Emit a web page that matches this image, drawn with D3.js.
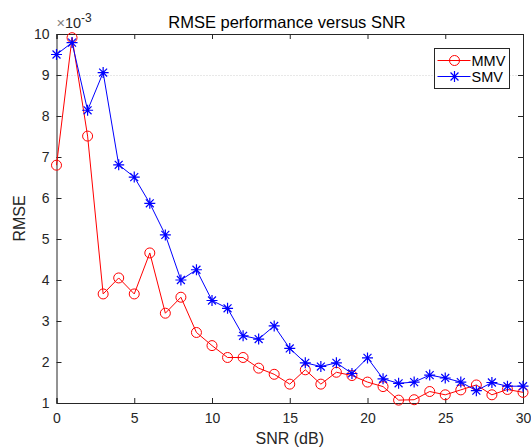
<!DOCTYPE html>
<html>
<head>
<meta charset="utf-8">
<script src="https://cdn.jsdelivr.net/npm/d3@7"></script>
<style>
  body { margin: 0; background: #fff; }
  svg { display: block; font-family: "Liberation Sans", Arial, sans-serif; }
</style>
</head>
<body>
<script>
// data (RMSE in units of 1e-3)
const snr = d3.range(0, 31);
const mmv = [6.80, 9.91, 7.51, 3.66, 4.05, 3.66, 4.66, 3.19, 3.58, 2.72, 2.40,
  2.11, 2.11, 1.85, 1.70, 1.46, 1.81, 1.46, 1.75, 1.67, 1.51, 1.40, 1.07, 1.08,
  1.28, 1.20, 1.32, 1.44, 1.20, 1.33, 1.26];
const smv = [9.50, 9.79, 8.14, 9.06, 6.81, 6.51, 5.87, 5.10, 4.00, 4.25, 3.50,
  3.31, 2.64, 2.56, 2.88, 2.33, 1.98, 1.89, 1.98, 1.72, 2.10, 1.59, 1.48, 1.51,
  1.68, 1.61, 1.51, 1.30, 1.50, 1.41, 1.41];
const xTicks = [0, 5, 10, 15, 20, 25, 30];
const yTicks = [1, 2, 3, 4, 5, 6, 7, 8, 9, 10];
const gridY = [9];
const seriesNames = ['MMV', 'SMV'];

const W = 531, H = 448;
const margin = { left: 56.5, right: 8, top: 34, bottom: 45 };
const axisColor = '#262626';

const svg = d3.select('body').append('svg')
  .attr('width', W)
  .attr('height', H);

const x = d3.scaleLinear().domain([0, 30]).range([margin.left, W - margin.right]);
const y = d3.scaleLinear().domain([1, 10]).range([H - margin.bottom, margin.top]);

// the lone dotted grid line
svg.append('g').selectAll('line')
  .data(gridY)
  .enter().append('line')
  .attr('x1', x(0)).attr('x2', x(30))
  .attr('y1', d => y(d) + 0.5).attr('y2', d => y(d) + 0.5)
  .attr('stroke', '#d0d0d0')
  .attr('stroke-dasharray', '1,2');

// axes (ticks point inward, box on)
const tickLen = 5;
const xAxis = d3.axisBottom(x).tickValues(xTicks).tickSize(-tickLen).tickPadding(10);
const yAxis = d3.axisLeft(y).tickValues(yTicks).tickSize(-tickLen).tickPadding(7);

svg.append('g')
  .attr('transform', `translate(0,${y(1)})`)
  .call(xAxis);
svg.append('g')
  .attr('transform', `translate(${x(0)},0)`)
  .call(yAxis);
svg.append('g')
  .attr('transform', `translate(0,${y(10)})`)
  .call(d3.axisTop(x).tickValues(xTicks).tickSize(-tickLen).tickFormat(''));
svg.append('g')
  .attr('transform', `translate(${x(30)},0)`)
  .call(d3.axisRight(y).tickValues(yTicks).tickSize(-tickLen).tickFormat(''));

svg.selectAll('.domain').attr('stroke', axisColor);
svg.selectAll('.tick line').attr('stroke', axisColor);
svg.selectAll('.tick text')
  .attr('fill', axisColor)
  .style('font-size', '14px');

// lines
const line = d3.line().x((d, i) => x(snr[i])).y(d => y(d));

svg.append('path')
  .datum(mmv)
  .attr('d', line)
  .attr('fill', 'none')
  .attr('stroke', '#ff0000')
  .attr('stroke-width', 1);

svg.append('path')
  .datum(smv)
  .attr('d', line)
  .attr('fill', 'none')
  .attr('stroke', '#0000ff')
  .attr('stroke-width', 1);

// markers
const circleMarker = (sel, cx, cy) => sel.append('circle')
  .attr('cx', cx).attr('cy', cy).attr('r', 5)
  .attr('fill', 'none').attr('stroke', '#ff0000').attr('stroke-width', 1);

const starPath = (cx, cy) => {
  const r = 5.5, d = r * 0.72;
  return `M${cx - r},${cy}L${cx + r},${cy}M${cx},${cy - r}L${cx},${cy + r}` +
    `M${cx - d},${cy - d}L${cx + d},${cy + d}M${cx - d},${cy + d}L${cx + d},${cy - d}`;
};

const mk = svg.append('g');
mmv.forEach((v, i) => circleMarker(mk, x(snr[i]), y(v)));
mk.selectAll('path.star')
  .data(smv)
  .enter().append('path')
  .attr('class', 'star')
  .attr('d', (d, i) => starPath(x(snr[i]), y(d)))
  .attr('stroke', '#0000ff')
  .attr('stroke-width', 1.2)
  .attr('fill', 'none');

// exponent label
const ex = svg.append('text')
  .attr('x', x(0))
  .attr('y', 28)
  .attr('fill', axisColor)
  .style('font-size', '14.5px');
ex.append('tspan').text('\u00d7').attr('fill', '#808080');
ex.append('tspan').text('10');
ex.append('tspan').text('-3').attr('dy', -6).style('font-size', '12px');

// title and labels
svg.append('text')
  .attr('x', 287)
  .attr('y', 27.5)
  .attr('text-anchor', 'middle')
  .attr('fill', '#000')
  .style('font-size', '16.5px')
  .text('RMSE performance versus SNR');

svg.append('text')
  .attr('x', (x(0) + x(30)) / 2)
  .attr('y', 444)
  .attr('text-anchor', 'middle')
  .attr('fill', axisColor)
  .style('font-size', '16px')
  .text('SNR (dB)');

svg.append('text')
  .attr('transform', `translate(25,${(y(1) + y(10)) / 2}) rotate(-90)`)
  .attr('text-anchor', 'middle')
  .attr('fill', axisColor)
  .style('font-size', '16px')
  .text('RMSE');

// legend
const lg = svg.append('g').attr('transform', 'translate(434.5,48.5)');
lg.append('rect')
  .attr('width', 75).attr('height', 40)
  .attr('fill', '#fff')
  .attr('stroke', axisColor)
  .attr('stroke-width', 1);

const legendColors = ['#ff0000', '#0000ff'];
seriesNames.forEach((name, i) => {
  const ly = 12 + i * 16;
  lg.append('line')
    .attr('x1', 3).attr('x2', 36)
    .attr('y1', ly).attr('y2', ly)
    .attr('stroke', legendColors[i]);
  if (i === 0) {
    circleMarker(lg, 20, ly);
  } else {
    lg.append('path')
      .attr('d', starPath(20, ly))
      .attr('stroke', '#0000ff')
      .attr('stroke-width', 1.2);
  }
  lg.append('text')
    .attr('x', 37)
    .attr('y', ly + 5)
    .attr('fill', '#000')
    .style('font-size', '14.5px')
    .text(name);
});
</script>
</body>
</html>
